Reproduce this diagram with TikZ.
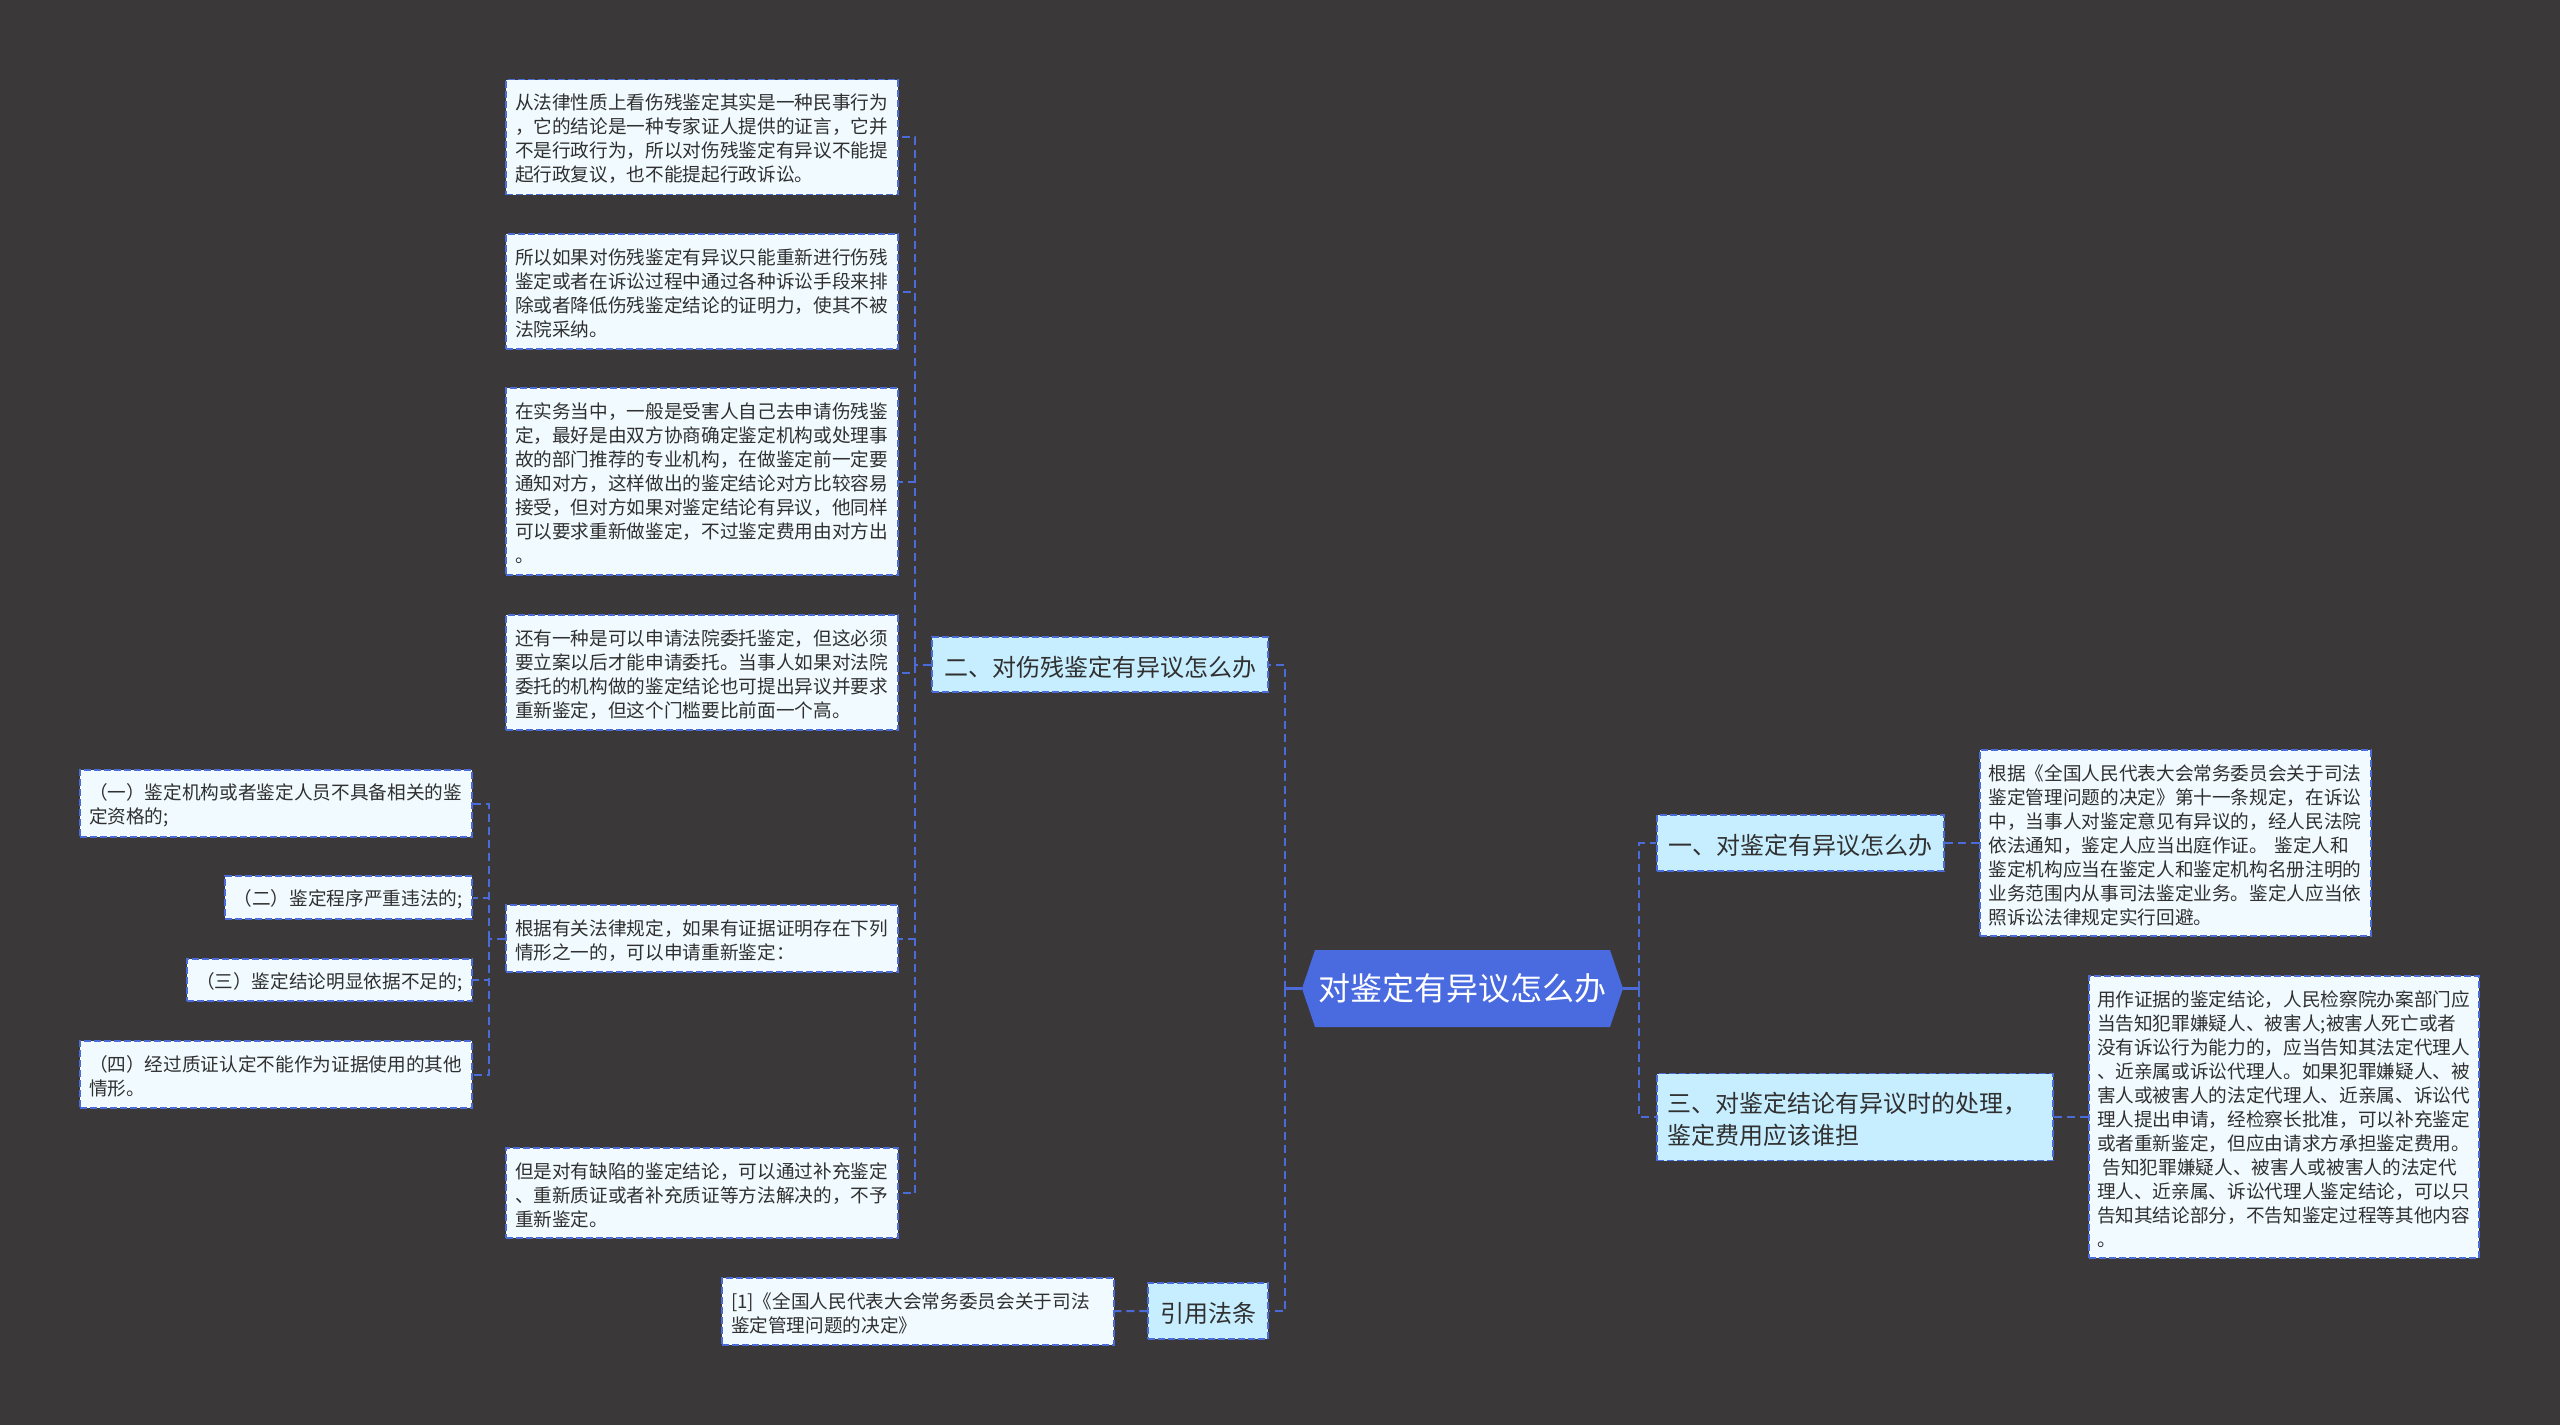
\documentclass[tikz,border=0pt]{standalone}
\usepackage{fontspec}
\usepackage{tikz}
\usetikzlibrary{shapes.symbols}
\setmainfont{Noto Sans CJK SC}
\definecolor{canvas}{HTML}{3A3839}
\definecolor{linkblue}{HTML}{4B6BD8}
\definecolor{rootblue}{HTML}{4A6BE0}
\definecolor{paleblue}{HTML}{F1FBFF}
\definecolor{midblue}{HTML}{C7EEFF}
\definecolor{ink}{HTML}{303030}
\tikzset{
    block/.style = {
        draw=linkblue,
        dashed,
        dash pattern=on 7pt off 3pt,
        line width=1.5pt,
        shape=rectangle,
        inner sep=0pt,
        align=left,
        text=ink,
        minimum width=392pt,
        execute at begin node={\rule{0pt}{1.05em}},
    },
    leaf/.style = {
        block,
        fill=paleblue,
        text width=374pt,
        font=\fontsize{18.65}{24}\selectfont,
    },
    branch/.style = {
        block,
        fill=midblue,
        font=\fontsize{24}{32}\selectfont,
    },
    root/.style = {
        shape=signal,
        signal to=west and east,
        signal pointer angle=142.6,
        fill=rootblue,
        inner sep=0pt,
        minimum width=321pt,
        minimum height=77pt,
        text=white,
        font=\fontsize{32}{38}\selectfont,
    },
    link/.style = {
        draw=linkblue,
        dashed,
        dash pattern=on 8pt off 5pt,
        line width=2pt,
    },
    stub/.style = {
        draw=linkblue,
        line width=2.5pt,
    },
}

\begin{document}
\begin{tikzpicture}[x=1pt,y=-1pt]
                \path[use as bounding box, fill=canvas] (0,0) rectangle (2560,1425);

                \node[root] (main) at (1462.5,988.5) {对鉴定有异议怎么办};

                \node[branch, minimum width=287, minimum height=56] (sec1) at (1800.5,843) {一、对鉴定有异议怎么办};
                \node[branch, minimum width=336, minimum height=55] (sec2) at (1100,664.5) {二、对伤残鉴定有异议怎么办};
                \node[branch, minimum width=396, minimum height=87, text width=376] (sec3) at (1855,1117) {三、对鉴定结论有异议时的处理，\\鉴定费用应该谁担};
                \node[branch, minimum width=120, minimum height=56] (sec4) at (1208,1311) {引用法条};

                \node[leaf, minimum height=115] (src1) at (702,137) {从法律性质上看伤残鉴定其实是一种民事行为\\，它的结论是一种专家证人提供的证言，它并\\不是行政行为，所以对伤残鉴定有异议不能提\\起行政复议，也不能提起行政诉讼。};
                \node[leaf, minimum height=115] (src2) at (702,291.5) {所以如果对伤残鉴定有异议只能重新进行伤残\\鉴定或者在诉讼过程中通过各种诉讼手段来排\\除或者降低伤残鉴定结论的证明力，使其不被\\法院采纳。};
                \node[leaf, minimum height=187] (src3) at (702,481.5) {在实务当中，一般是受害人自己去申请伤残鉴\\定，最好是由双方协商确定鉴定机构或处理事\\故的部门推荐的专业机构，在做鉴定前一定要\\通知对方，这样做出的鉴定结论对方比较容易\\接受，但对方如果对鉴定结论有异议，他同样\\可以要求重新做鉴定，不过鉴定费用由对方出\\。};
                \node[leaf, minimum height=115] (src4) at (702,672.5) {还有一种是可以申请法院委托鉴定，但这必须\\要立案以后才能申请委托。当事人如果对法院\\委托的机构做的鉴定结论也可提出异议并要求\\重新鉴定，但这个门槛要比前面一个高。};
                \node[leaf, minimum height=67] (src5) at (702,938.5) {根据有关法律规定，如果有证据证明存在下列\\情形之一的，可以申请重新鉴定：};
                \node[leaf, minimum height=90] (src6) at (702,1193) {但是对有缺陷的鉴定结论，可以通过补充鉴定\\、重新质证或者补充质证等方法解决的，不予\\重新鉴定。};

                \node[leaf, minimum height=67] (cond1) at (276,803.5) {（一）鉴定机构或者鉴定人员不具备相关的鉴\\定资格的;};
                \node[leaf, minimum width=247, minimum height=43, text width=230] (cond2) at (348.5,897.5) {（二）鉴定程序严重违法的;};
                \node[leaf, minimum width=285, minimum height=42, text width=267] (cond3) at (329.5,980) {（三）鉴定结论明显依据不足的;};
                \node[leaf, minimum height=67] (cond4) at (276,1074.5) {（四）经过质证认定不能作为证据使用的其他\\情形。};

                \node[leaf, minimum height=67] (law) at (918,1311.5) {[1]《全国人民代表大会常务委员会关于司法\\鉴定管理问题的决定》};
                \node[leaf, minimum width=391, minimum height=186] (ans1) at (2175.5,843) {根据《全国人民代表大会常务委员会关于司法\\鉴定管理问题的决定》第十一条规定，在诉讼\\中，当事人对鉴定意见有异议的，经人民法院\\依法通知，鉴定人应当出庭作证。 鉴定人和\\鉴定机构应当在鉴定人和鉴定机构名册注明的\\业务范围内从事司法鉴定业务。鉴定人应当依\\照诉讼法律规定实行回避。};
                \node[leaf, minimum width=390, minimum height=282] (ans3) at (2284,1117) {用作证据的鉴定结论，人民检察院办案部门应\\当告知犯罪嫌疑人、被害人;被害人死亡或者\\没有诉讼行为能力的，应当告知其法定代理人\\、近亲属或诉讼代理人。如果犯罪嫌疑人、被\\害人或被害人的法定代理人、近亲属、诉讼代\\理人提出申请，经检察长批准，可以补充鉴定\\或者重新鉴定，但应由请求方承担鉴定费用。\\\hspace*{0.3em}告知犯罪嫌疑人、被害人或被害人的法定代\\理人、近亲属、诉讼代理人鉴定结论，可以只\\告知其结论部分，不告知鉴定过程等其他内容\\。};

                \coordinate (busl) at (1285,988.5);
                \coordinate (busr) at (1639,988.5);
                \coordinate (bussrc) at (915,664.5);
                \coordinate (buscond) at (489,938.5);

                \path[draw, stub] (main.west) -- (busl);
                \path[draw, stub] (main.east) -- (busr);
                \path[draw, link] (busl) |- (sec2.east);
                \path[draw, link] (busl) |- (sec4.east);
                \path[draw, link] (busr) |- (sec1.west);
                \path[draw, link] (busr) |- (sec3.west);

                \path[draw, link] (sec1) -- (ans1);
                \path[draw, link] (sec3) -- (ans3);
                \path[draw, link] (sec4) -- (law);

                \path[draw, link] (sec2.west) -- (bussrc);
                \path[draw, link] (bussrc) |- (src1.east);
                \path[draw, link] (bussrc) |- (src2.east);
                \path[draw, link] (bussrc) |- (src3.east);
                \path[draw, link] (bussrc) |- (src4.east);
                \path[draw, link] (bussrc) |- (src5.east);
                \path[draw, link] (bussrc) |- (src6.east);

                \path[draw, link] (src5.west) -- (buscond);
                \path[draw, link] (buscond) |- (cond1.east);
                \path[draw, link] (buscond) |- (cond2.east);
                \path[draw, link] (buscond) |- (cond3.east);
                \path[draw, link] (buscond) |- (cond4.east);
\end{tikzpicture}
\end{document}
